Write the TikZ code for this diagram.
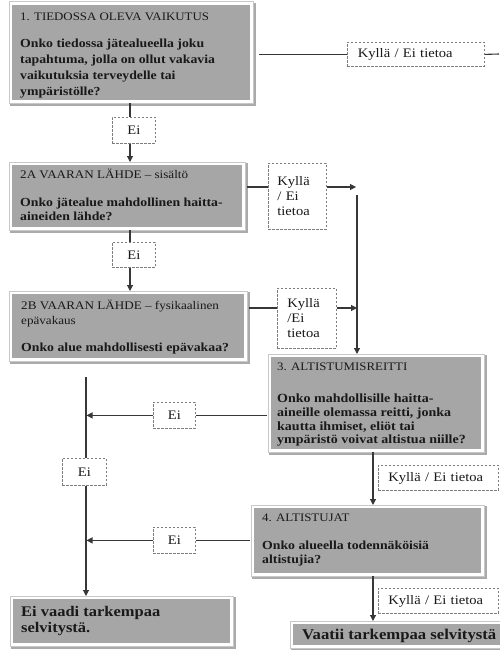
\documentclass[tikz,border=0pt]{standalone}
\usepackage{fontspec}
\setmainfont{Liberation Serif}[FakeStretch=1.12]
\usetikzlibrary{arrows.meta,calc}
\definecolor{boxgray}{RGB}{166,166,166}
\definecolor{framegray}{RGB}{200,200,200}
\definecolor{shadegray}{RGB}{170,170,170}
\definecolor{linegray}{RGB}{55,55,55}
\definecolor{dashgray}{RGB}{125,125,125}
\definecolor{txt}{RGB}{25,25,25}
\pgfdeclarelayer{paper}
\pgfdeclarelayer{frames}
\pgfdeclarelayer{lines}
\pgfsetlayers{paper,frames,lines,main}
\newcommand{\tstrut}{\rule{0pt}{10pt}}
\tikzset{
  graybox/.style={rectangle, fill=boxgray, draw=none, inner sep=0pt, anchor=north west},
  boxframe/.style={draw=framegray, line width=1pt},
  boxshade/.style={draw=shadegray, line width=1.6pt},
  headtext/.style={anchor=north west, inner sep=0pt, align=left, text=txt, font=\fontsize{11.7}{15}\selectfont},
  bodytext/.style={anchor=north west, inner sep=0pt, align=left, text=txt, font=\fontsize{12.3}{14}\selectfont\bfseries},
  endtext/.style={anchor=north west, inner sep=0pt, align=left, text=txt, font=\fontsize{14.7}{16}\selectfont\bfseries},
  lab/.style={draw=dashgray, dash pattern=on 2.4pt off 1.6pt, line width=0.8pt, fill=white, inner ysep=0pt, anchor=north west, text=txt, font=\fontsize{13}{15}\selectfont},
  conn/.style={draw=linegray, line width=1.1pt},
  arr/.style={conn, -{Triangle[length=6pt,width=6pt]}}
}
\begin{document}
\begin{tikzpicture}[x=1pt,y=-1pt]
\begin{pgfonlayer}{paper}
\fill[white] (0,0) rectangle (499,650);
\end{pgfonlayer}
\useasboundingbox (0,0) rectangle (499,650);

% gray boxes
\node[graybox, minimum width=238pt, minimum height=95pt] (b1) at (12,5) {};
\node[graybox, minimum width=230pt, minimum height=62pt] (b2a) at (12,165) {};
\node[graybox, minimum width=232pt, minimum height=64pt] (b2b) at (12,294) {};
\node[graybox, minimum width=210pt, minimum height=92pt] (b3) at (271,357) {};
\node[graybox, minimum width=227pt, minimum height=65pt] (b4) at (254,508) {};
\node[graybox, minimum width=217pt, minimum height=44pt] (bl) at (13,599) {};
\node[graybox, minimum width=212pt, minimum height=21pt] (br) at (293,624) {};

% texts in boxes
\node[headtext, font=\fontsize{11.5}{15}\selectfont] (t1h) at (20,10.5) {\tstrut 1. TIEDOSSA OLEVA VAIKUTUS};
\node[bodytext, font=\fontsize{12.3}{16}\selectfont\bfseries] (t1b) at (20,37.5)
  {\tstrut Onko tiedossa jätealueella joku\\tapahtuma, jolla on ollut vakavia\\vaikutuksia terveydelle tai\\ympäristölle?};
\node[headtext] (t2ah) at (20,168.5) {\tstrut 2A VAARAN LÄHDE – sisältö};
\node[bodytext] (t2ab) at (20,196.5) {\tstrut Onko jätealue mahdollinen haitta-\\aineiden lähde?};
\node[headtext] (t2bh) at (21,299.5) {\tstrut 2B VAARAN LÄHDE – fysikaalinen\\epävakaus};
\node[bodytext] (t2bb) at (21,341.5) {\tstrut Onko alue mahdollisesti epävakaa?};
\node[headtext, font=\fontsize{11.5}{15}\selectfont] (t3h) at (277,360.5) {\tstrut 3. ALTISTUMISREITTI};
\node[bodytext, font=\fontsize{12.5}{13.7}\selectfont\bfseries] (t3b) at (277,392.5)
  {\tstrut Onko mahdollisille haitta-\\aineille olemassa reitti, jonka\\kautta ihmiset, eliöt tai\\ympäristö voivat altistua niille?};
\node[headtext, font=\fontsize{11.5}{15}\selectfont] (t4h) at (262,511.5) {\tstrut 4. ALTISTUJAT};
\node[bodytext] (t4b) at (262,539.5) {\tstrut Onko alueella todennäköisiä\\altistujia?};
\node[endtext] (tl) at (21,604.5) {\rule{0pt}{12pt}Ei vaadi tarkempaa\\selvitystä.};
\node[anchor=base west, inner sep=0pt, text=txt, font=\fontsize{14.9}{16}\selectfont\bfseries] (tr) at (302,639) {Vaatii tarkempaa selvitystä};

% dashed labels
\node[lab, minimum height=24pt, text width=116pt, inner xsep=10.5pt, align=left] (l1) at (347,42) {Kyllä / Ei tietoa};
\node[lab, minimum width=43pt, minimum height=26pt, inner xsep=0pt] (e1) at (112,117) {Ei};
\node[lab, minimum width=43pt, minimum height=25pt, inner xsep=0pt] (e2) at (112,242) {Ei};
\node[lab, minimum height=66pt, text width=40pt, inner xsep=9pt, align=left] (k2a) at (268,163) {Kyllä\\/ Ei\\tietoa};
\node[lab, minimum height=60pt, text width=39pt, inner xsep=10pt, align=left] (k2b) at (277,288) {Kyllä\\/Ei\\tietoa};
\node[lab, minimum width=42pt, minimum height=26pt, inner xsep=0pt] (e3) at (153,402) {Ei};
\node[lab, minimum width=42pt, minimum height=26pt, inner xsep=0pt] (e4) at (153,527) {Ei};
\node[lab, minimum width=44pt, minimum height=27pt, inner xsep=0pt] (e5) at (62,458) {Ei};
\node[lab, minimum height=25pt, text width=100pt, inner xsep=10pt, align=left] (k3) at (378,465) {Kyllä / Ei tietoa};
\node[lab, minimum height=25pt, text width=100pt, inner xsep=10pt, align=left] (k4) at (378,588) {Kyllä / Ei tietoa};

% coordinates
\coordinate (redge) at (499,54);
\coordinate (cx) at (130,0);
\coordinate (vx) at (357,0);
\coordinate (vtop) at (357,195);
\coordinate (lx) at (86,0);
\coordinate (ltop) at (86,377);
\coordinate (rx) at (373,0);
\coordinate (y2a) at (0,187);
\coordinate (y2b) at (0,308);

% frames
\begin{pgfonlayer}{frames}
\foreach \n in {b1,b2a,b2b,b3,b4,bl,br}{
  \draw[boxshade] ($(\n.south west)+(-2,4.8)$) -- ($(\n.south east)+(4.8,4.8)$) -- ($(\n.north east)+(4.8,-2)$);
  \draw[boxframe] ($(\n.north west)+(-3,-3)$) rectangle ($(\n.south east)+(3,3)$);
}
\end{pgfonlayer}

% connectors
\begin{pgfonlayer}{lines}
\draw[conn] ($(l1.west -| b1.east)+(9,0)$) -- (l1.west);
\draw[conn] (l1.east) -- (redge);
\draw[conn] ($(b1.south -| cx)+(0,3)$) -- (e1.north -| cx);
\draw[arr] (e1.south -| cx) -- ($(b2a.north -| cx)+(0,-3)$);
\draw[conn] ($(b2a.south -| cx)+(0,3)$) -- (e2.north -| cx);
\draw[arr] (e2.south -| cx) -- ($(b2b.north -| cx)+(0,-3)$);
\draw[conn] ($(y2a -| b2a.east)+(5,0)$) -- (y2a -| k2a.west);
\draw[arr] (y2a -| k2a.east) -- ($(y2a -| vx)+(-1,0)$);
\draw[conn] ($(y2b -| b2b.east)+(5,0)$) -- (y2b -| k2b.west);
\draw[arr] (y2b -| k2b.east) -- ($(y2b -| vx)+(0,0)$);
\draw[arr] (vtop) -- ($(vtop |- b3.north)+(0,-3)$);
\draw[conn] ($(e3.east -| b3.west)+(-4,0)$) -- (e3.east);
\draw[arr] (e3.west) -- ($(e3.west -| lx)+(0.5,0)$);
\draw[conn] ($(e4.east -| b4.west)+(-4,0)$) -- (e4.east);
\draw[arr] (e4.west) -- ($(e4.west -| lx)+(0.5,0)$);
\draw[conn] (ltop) -- (e5.north -| lx);
\draw[arr] (e5.south -| lx) -- ($(bl.north -| lx)+(0,-3)$);
\draw[arr] ($(b3.south -| rx)+(0,3)$) -- ($(b4.north -| rx)+(0,-3)$);
\draw[arr] ($(b4.south -| rx)+(0,3)$) -- ($(br.north -| rx)+(0,-3)$);
\end{pgfonlayer}
\end{tikzpicture}
\end{document}
